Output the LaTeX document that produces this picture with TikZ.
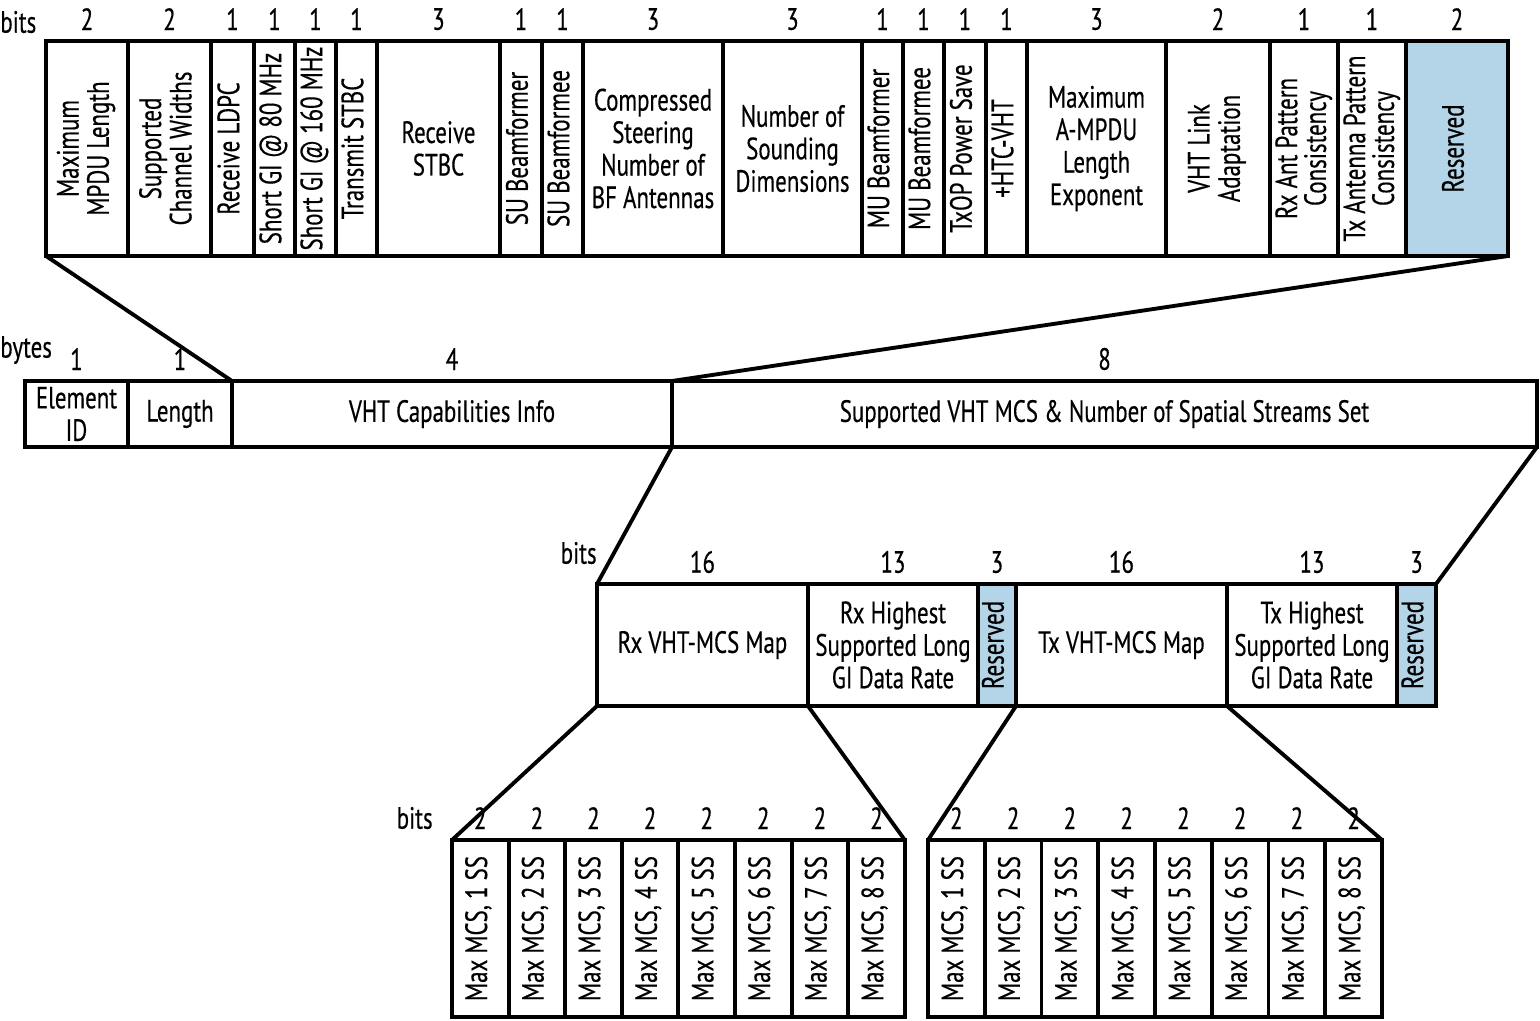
\documentclass[tikz,border=0pt]{standalone}
\usepackage{fontspec}
\setmainfont{PT Sans}[FakeStretch=0.745, FakeBold=0.4]
\usepackage{xcolor}
\usepackage{tikz}
\usetikzlibrary{positioning}

\definecolor{rsvblue}{RGB}{180,213,232}
\newcommand{\fs}{\fontsize{17.5}{18.5}\selectfont}
\newcommand{\pxu}{0.02cm}
\newcommand{\vt}[1]{\rotatebox{90}{\renewcommand{\arraystretch}{0.87}\begin{tabular}{@{}c@{}}#1\end{tabular}}}
\newcommand{\vtt}[1]{\rotatebox{90}{\renewcommand{\arraystretch}{0.7}\begin{tabular}{@{}c@{}}#1\end{tabular}}}

\tikzset{
  fld/.style={draw, line width=2.2pt, inner sep=0pt, outer sep=0pt, align=center, font=\fs},
  num/.style={inner sep=0pt, font=\fs},
  link/.style={line width=2.2pt},
}

\begin{document}
\begin{tikzpicture}[x=0.02cm, y=-0.02cm]
    \useasboundingbox (0,0) rectangle (1540,1020);
    % capabilities info, bits
    \node[num, anchor=west] (tbits) at (0,22) {bits};
    \foreach \xa/\xb/\n/\c/\txt [count=\i] in {
        46/128/2/white/{\vt{Maximum\\MPDU Length}},
        128/211/2/white/{\vt{Supported\\Channel Widths}},
        211/254/1/white/{\vt{Receive LDPC}},
        254/295/1/white/{\vt{Short GI @ 80 MHz}},
        295/336/1/white/{\vt{Short GI @ 160 MHz}},
        336/377/1/white/{\vt{Transmit STBC}},
        377/500/3/white/{Receive\\STBC},
        500/542/1/white/{\vt{SU Beamformer}},
        542/583/1/white/{\vt{SU Beamformee}},
        583/723/3/white/{Compressed\\Steering\\Number of\\BF Antennas},
        723/862/3/white/{Number of\\Sounding\\Dimensions},
        862/903/1/white/{\vt{MU Beamformer}},
        903/944/1/white/{\vt{MU Beamformee}},
        944/986/1/white/{\vt{TxOP Power Save}},
        986/1027/1/white/{\vt{+HTC-VHT}},
        1027/1166/3/white/{Maximum\\A-MPDU\\Length\\Exponent},
        1166/1270/2/white/{\vt{VHT Link\\Adaptation}},
        1270/1338/1/white/{\vtt{Rx Ant Pattern\\Consistency}},
        1338/1406/1/white/{\vtt{Tx Antenna Pattern\\Consistency}},
        1406/1508/2/rsvblue/{\vt{Reserved}}}
    {
        \node[fld, fill=\c, minimum width={(\xb-\xa)*\pxu}, minimum height={215*\pxu}] (t\i) at ({(\xa+\xb)/2},148.5) {\txt};
        \node[num, above=6pt of t\i.north] (tn\i) {\n};
    }
    % element, bytes
    \node[num, anchor=west] (mbytes) at (0,350) {bytes};
    \foreach \xa/\xb/\n/\txt [count=\i] in {
        25/128/1/{Element\\ID},
        128/232/1/{Length},
        232/672/4/{VHT Capabilities Info},
        672/1537/8/{Supported VHT MCS \& Number of Spatial Streams Set}}
    {
        \node[fld, minimum width={(\xb-\xa)*\pxu}, minimum height={66*\pxu}] (m\i) at ({(\xa+\xb)/2},414) {\txt};
        \node[num, above=6pt of m\i.north] (mn\i) {\n};
    }
    % mcs & nss set, bits
    \node[num, anchor=east] (sbits) at (597,553) {bits};
    \foreach \xa/\xb/\n/\c/\txt [count=\i] in {
        597/808/16/white/{Rx VHT-MCS Map},
        808/978/13/white/{Rx Highest\\Supported Long\\GI Data Rate},
        978/1016/3/rsvblue/{\vt{Reserved}},
        1016/1227/16/white/{Tx VHT-MCS Map},
        1227/1397/13/white/{Tx Highest\\Supported Long\\GI Data Rate},
        1397/1436/3/rsvblue/{\vt{Reserved}}}
    {
        \node[fld, fill=\c, minimum width={(\xb-\xa)*\pxu}, minimum height={122*\pxu}] (s\i) at ({(\xa+\xb)/2},645) {\txt};
        \node[num, above=6pt of s\i.north] (sn\i) {\n};
    }
    % rx and tx maps, bits
    \node[num, anchor=east] (abits) at (433,818) {bits};
    \foreach \k in {1,...,8} {
        \node[fld, minimum width={56.6*\pxu}, minimum height={177*\pxu}] (a\k) at ({452+(\k-0.5)*56.6},928.5) {\vt{Max MCS, \k\ SS}};
        \node[num, above=6pt of a\k.north] (an\k) {2};
        \node[fld, minimum width={56.75*\pxu}, minimum height={177*\pxu}] (b\k) at ({928+(\k-0.5)*56.75},928.5) {\vt{Max MCS, \k\ SS}};
        \node[num, above=6pt of b\k.north] (bn\k) {2};
    }
    % expansions
    \draw[link] (t1.south west) -- (m3.north west);
    \draw[link] (t20.south east) -- (m4.north west);
    \draw[link] (m4.south west) -- (s1.north west);
    \draw[link] (m4.south east) -- (s6.north east);
    \draw[link] (s1.south west) -- (a1.north west);
    \draw[link] (s1.south east) -- (a8.north east);
    \draw[link] (s3.south east) -- (b1.north west);
    \draw[link] (s4.south east) -- (b8.north east);
\end{tikzpicture}
\end{document}
